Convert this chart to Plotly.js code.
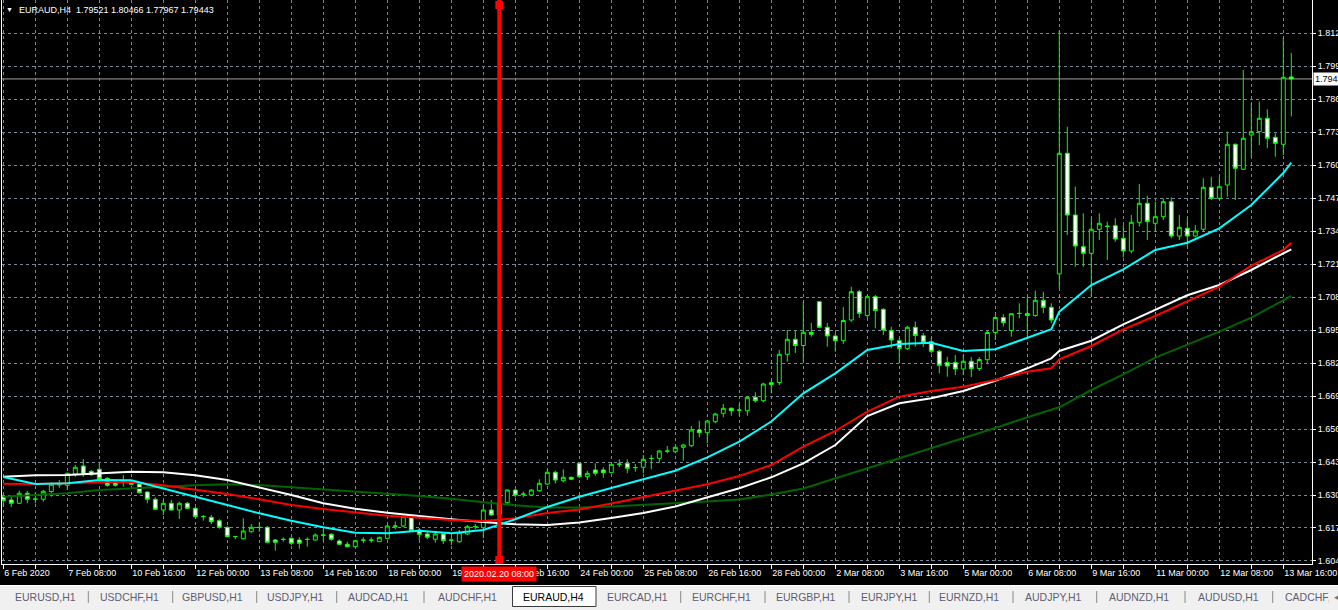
<!DOCTYPE html>
<html>
<head>
<meta charset="utf-8">
<script src="https://cdn.plot.ly/plotly-3.0.1.min.js"></script>
<style>
html,body{margin:0;padding:0;background:#000;overflow:hidden}
#chart{width:1338px;height:610px}
</style>
</head>
<body>
<div id="chart"></div>
<script>
// ---------------- DATA ----------------
const symbol = 'EURAUD,H4';

const opens = [
1.62983,1.62853,1.62723,1.63117,1.62881,1.62881,1.63188,1.63444,1.63432,1.63877,
1.64193,1.63984,1.64063,1.63708,1.63562,1.63574,1.63562,1.63483,1.63168,1.62881,
1.62459,1.62723,1.62459,1.62723,1.62526,1.62195,1.62171,1.62037,1.61777,1.61407,
1.61328,1.61604,1.61777,1.61777,1.61277,1.61305,1.61344,1.61277,1.61305,1.61277,
1.61474,1.61502,1.61238,1.61108,1.61013,1.61277,1.61277,1.61210,1.61344,1.61829,
1.61829,1.62171,1.61671,1.61513,1.61305,1.61513,1.61277,1.61210,1.61513,1.61801,
1.61762,1.62459,1.62262,1.62747,1.63247,1.63089,1.63050,1.63219,1.63483,1.63944,
1.63613,1.63747,1.64299,1.63771,1.64035,1.64035,1.63929,1.64271,1.64299,1.64126,
1.64141,1.64496,1.64496,1.64784,1.64756,1.64929,1.64992,1.65611,1.65505,1.65938,
1.66269,1.66466,1.66399,1.66371,1.66899,1.66765,1.67475,1.67483,1.68594,1.69185,
1.68940,1.69460,1.70666,1.69657,1.69315,1.69129,1.69945,1.71060,1.70122,1.70863,
1.70367,1.69531,1.69129,1.68814,1.69657,1.69326,1.69090,1.68712,1.68270,1.68270,
1.68014,1.68318,1.68034,1.68381,1.69452,1.70043,1.69531,1.70209,1.70201,1.70122,
1.70721,1.70445,1.71757,1.76513,1.74082,1.72833,1.72573,1.73519,1.73649,1.73660,
1.73164,1.72664,1.73794,1.74543,1.73755,1.74015,1.74606,1.73255,1.73558,1.73255,
1.73519,1.75173,1.74740,1.75264,1.76868,1.75883,1.77234,1.77364,1.77892,1.77143,
1.76868,1.79521];

const highs = [
1.63089,1.62971,1.63219,1.63219,1.63141,1.63247,1.63550,1.63641,1.63929,1.64232,
1.64468,1.64035,1.64271,1.63747,1.63613,1.63838,1.63641,1.63511,1.63196,1.62959,
1.62853,1.62853,1.62786,1.62774,1.62577,1.62262,1.62262,1.62093,1.61817,1.61435,
1.62132,1.61907,1.61974,1.61829,1.61316,1.61383,1.61383,1.61383,1.61383,1.61541,
1.61699,1.61541,1.61305,1.61210,1.61277,1.61383,1.61383,1.61407,1.61868,1.61998,
1.62301,1.62195,1.61738,1.61643,1.61565,1.61541,1.61407,1.61671,1.61868,1.61907,
1.62656,1.62853,1.63089,1.63275,1.63275,1.63180,1.63286,1.63669,1.64063,1.64007,
1.64063,1.63771,1.64323,1.64007,1.64299,1.64141,1.64271,1.64457,1.64457,1.64271,
1.64626,1.64626,1.64823,1.64981,1.64981,1.65059,1.65769,1.65977,1.66005,1.66293,
1.66635,1.66505,1.66635,1.66923,1.67096,1.67475,1.67581,1.68763,1.69551,1.69551,
1.70666,1.69827,1.70694,1.69827,1.69433,1.70457,1.71257,1.71127,1.70930,1.70930,
1.70406,1.69681,1.69224,1.69709,1.69878,1.69433,1.69224,1.68763,1.68499,1.68566,
1.68566,1.68487,1.68487,1.69551,1.70142,1.70170,1.70209,1.70603,1.70863,1.71099,
1.71060,1.70603,1.81371,1.77561,1.75197,1.74149,1.73952,1.74149,1.73818,1.73952,
1.73688,1.74082,1.75303,1.74842,1.74606,1.74740,1.74779,1.74082,1.73952,1.73688,
1.75528,1.75591,1.75591,1.77364,1.76907,1.79795,1.78483,1.78546,1.78247,1.77301,
1.81044,1.80466];

const lows = [
1.62589,1.62577,1.62695,1.62723,1.62723,1.62786,1.62983,1.63338,1.63247,1.63771,
1.63771,1.63810,1.63669,1.63377,1.63377,1.63377,1.63444,1.63117,1.62723,1.62459,
1.62262,1.62431,1.62104,1.62498,1.62183,1.62037,1.61907,1.61722,1.61383,1.61305,
1.61305,1.61565,1.61604,1.61147,1.60855,1.61210,1.61080,1.60934,1.61013,1.61249,
1.61249,1.61249,1.61080,1.60989,1.60989,1.61147,1.61171,1.61198,1.61305,1.61699,
1.61777,1.61620,1.61277,1.61305,1.61171,1.61119,1.61080,1.61171,1.61474,1.61699,
1.61344,1.62234,1.62195,1.62723,1.62959,1.62959,1.63023,1.63180,1.63444,1.63511,
1.63550,1.63641,1.63708,1.63641,1.63810,1.63732,1.63905,1.64141,1.63905,1.63968,
1.63905,1.64063,1.64323,1.64693,1.64693,1.64401,1.64941,1.65323,1.65087,1.65875,
1.66111,1.66174,1.66174,1.66174,1.66687,1.66702,1.67057,1.67384,1.68302,1.68645,
1.68302,1.69287,1.69618,1.68893,1.68696,1.68999,1.69878,1.70024,1.70012,1.69618,
1.69354,1.68830,1.68239,1.68763,1.68893,1.68881,1.68633,1.67845,1.67711,1.67778,
1.67778,1.67699,1.67936,1.68239,1.69157,1.69681,1.69287,1.70012,1.69287,1.70075,
1.70209,1.69815,1.71194,1.73294,1.72045,1.72045,1.70863,1.73097,1.72309,1.73030,
1.72415,1.72573,1.73621,1.73097,1.73424,1.73885,1.73164,1.73097,1.72833,1.73203,
1.73424,1.74673,1.74673,1.74803,1.74673,1.75855,1.76379,1.76840,1.76710,1.76379,
1.76446,1.77967];

const closes = [
1.62825,1.62723,1.63117,1.62881,1.62892,1.63196,1.63472,1.63483,1.63905,1.64141,
1.63866,1.63850,1.63692,1.63432,1.63432,1.63562,1.63472,1.63141,1.62881,1.62486,
1.62723,1.62459,1.62723,1.62526,1.62195,1.62203,1.61998,1.61777,1.61407,1.61415,
1.61632,1.61777,1.61769,1.61186,1.61186,1.61297,1.61147,1.61147,1.61297,1.61474,
1.61466,1.61305,1.61108,1.61013,1.61249,1.61269,1.61269,1.61383,1.61829,1.61821,
1.62195,1.61643,1.61502,1.61383,1.61513,1.61249,1.61269,1.61565,1.61801,1.61809,
1.62459,1.62262,1.62723,1.63247,1.63050,1.63082,1.63247,1.63511,1.63944,1.63641,
1.63747,1.63669,1.63771,1.63905,1.63905,1.63929,1.64260,1.64264,1.64102,1.64133,
1.64457,1.64488,1.64784,1.64776,1.64929,1.65020,1.65611,1.65505,1.65966,1.66241,
1.66466,1.66371,1.66391,1.66899,1.66765,1.67423,1.67404,1.68594,1.69185,1.68940,
1.69460,1.69382,1.69657,1.69315,1.69129,1.69925,1.71060,1.70209,1.70863,1.70319,
1.69551,1.69157,1.68822,1.69657,1.69334,1.69070,1.68712,1.68160,1.68133,1.68014,
1.68318,1.68026,1.68389,1.69452,1.70043,1.69839,1.70193,1.70201,1.70122,1.70721,
1.70445,1.69945,1.76513,1.74082,1.72861,1.72573,1.73519,1.73755,1.73629,1.73136,
1.72664,1.73794,1.74543,1.73818,1.74015,1.74606,1.73255,1.73597,1.73255,1.73452,
1.75173,1.74740,1.75197,1.76868,1.75922,1.77104,1.77364,1.77892,1.77104,1.76907,
1.79507,1.79443];

// moving averages at these bar numbers
const maBars = [0,4,8,12,16,20,24,28,32,36,40,44,48,52,56,60,64,68,72,76,80,84,88,92,96,100,
104,108,112,116,120,124,128,131,132,136,140,144,148,152,156,160,161];
const maCyan = [1.63759,1.63483,1.63511,1.63641,1.63629,1.63314,1.62983,1.62656,1.62329,1.62037,
1.61777,1.61565,1.61541,1.61643,1.61541,1.61671,1.62093,1.62577,1.62983,1.63338,1.63669,1.64007,
1.64535,1.65150,1.65946,1.67057,1.67845,1.68763,1.68999,1.69051,1.68724,1.68791,1.69224,1.69579,
1.70272,1.71324,1.71943,1.72703,1.72991,1.73558,1.74476,1.75737,1.76143];
const maRed = [1.63495,1.63483,1.63511,1.63550,1.63550,1.63432,1.63259,1.63089,1.62881,1.62656,
1.62498,1.62380,1.62234,1.62156,1.62065,1.62026,1.62132,1.62341,1.62479,1.62715,1.62959,1.63208,
1.63472,1.63799,1.64232,1.64953,1.65572,1.66332,1.66923,1.67148,1.67317,1.67581,1.67908,1.68042,
1.68397,1.68921,1.69579,1.70103,1.70666,1.71257,1.72084,1.72703,1.72991];
const maWhite = [1.63771,1.63826,1.63838,1.63905,1.63968,1.63944,1.63826,1.63641,1.63353,1.63050,
1.62723,1.62510,1.62353,1.62211,1.62093,1.61986,1.61896,1.61868,1.61966,1.62144,1.62341,1.62597,
1.62959,1.63314,1.63747,1.64299,1.65020,1.66163,1.66663,1.66860,1.67148,1.67553,1.68042,1.68436,
1.68724,1.69129,1.69776,1.70339,1.70918,1.71324,1.71915,1.72573,1.72731];
const maGreen = [1.62983,1.63050,1.63117,1.63247,1.63314,1.63365,1.63432,1.63472,1.63444,1.63353,
1.63275,1.63180,1.63101,1.63011,1.62904,1.62763,1.62644,1.62557,1.62557,1.62597,1.62656,1.62715,
1.62794,1.62873,1.63070,1.63306,1.63700,1.64114,1.64508,1.64902,1.65296,1.65690,1.66111,1.66399,
1.66505,1.67187,1.67806,1.68460,1.68960,1.69484,1.70036,1.70733,1.70891];

// time-axis labels (bar number -> label)
const labelBars = [0,8,16,24,32,40,48,56,64,72,80,88,96,104,112,120,128,136,144,152,160];
const labelTexts = ['6 Feb 2020','7 Feb 08:00','10 Feb 16:00','12 Feb 00:00','13 Feb 08:00',
'14 Feb 16:00','18 Feb 00:00','19 Feb 08:00','20 Feb 16:00','24 Feb 00:00','25 Feb 08:00',
'26 Feb 16:00','28 Feb 00:00','2 Mar 08:00','3 Mar 16:00','5 Mar 00:00','6 Mar 08:00',
'9 Mar 16:00','11 Mar 00:00','12 Mar 08:00','13 Mar 16:00'];

// price-axis labels
const priceTicks = [1.6045,1.6175,1.6305,1.6435,1.6565,1.6695,1.6825,1.6955,1.7085,1.7215,
1.7345,1.7475,1.7605,1.7735,1.7865,1.7995,1.8125];

// vertical line object
const markerBar = 62;
const markerLabel = '2020.02.20 08:00';

// terminal tabs
const tabNames = ['EURUSD,H1','USDCHF,H1','GBPUSD,H1','USDJPY,H1','AUDCAD,H1','AUDCHF,H1',
'EURAUD,H4','EURCAD,H1','EURCHF,H1','EURGBP,H1','EURJPY,H1','EURNZD,H1','AUDJPY,H1',
'AUDNZD,H1','AUDUSD,H1','CADCHF,H1'];

// ---------------- LAYOUT GEOMETRY ----------------
const W = 1338, H = 610, ML = 2, MR = 26, MT = 0, MB = 46;
const PW = W - ML - MR, PH = H - MT - MB;
const px = x => (x - ML) / PW;
const py = y => (PH + MT - y) / PH;
const BAR_PX = 8, BAR0_PX = 3.3;

const tabCenters = [45,129,212.5,295.5,378.5,467,553.5,637,721.5,805,889,969,1053.5,1139,1228,1283];
const tabSeps = [88.3,172.7,256.7,336.7,424,680.7,765,849,929.3,1013,1096.7,1185,1272.7];
const activeTab = 6;

const FONT = 'Liberation Sans, Arial, sans-serif';
const GRID = '#778899';
const last = closes.length - 1;

// grid every 4 bars, labels every 8
const gridBars = [];
for (let b = 0; b <= labelBars[labelBars.length - 1]; b += 4) gridBars.push(b);
const gridTexts = gridBars.map(b => {
  const k = labelBars.indexOf(b);
  return k >= 0 ? labelTexts[k] : '';
});

const xIdx = opens.map((_, i) => i);

const traces = [
  {
    type: 'candlestick', x: xIdx, open: opens, high: highs, low: lows, close: closes,
    increasing: {line: {color: '#00ff00', width: 1}, fillcolor: '#000000'},
    decreasing: {line: {color: '#00ff00', width: 1}, fillcolor: '#ffffff'},
    whiskerwidth: 0, hoverinfo: 'skip', showlegend: false
  },
  {type: 'scatter', mode: 'lines', x: maBars, y: maGreen, line: {color: '#006400', width: 2}, hoverinfo: 'skip', showlegend: false},
  {type: 'scatter', mode: 'lines', x: maBars, y: maWhite, line: {color: '#ffffff', width: 2}, hoverinfo: 'skip', showlegend: false},
  {type: 'scatter', mode: 'lines', x: maBars, y: maRed, line: {color: '#ff0000', width: 2}, hoverinfo: 'skip', showlegend: false},
  {type: 'scatter', mode: 'lines', x: maBars, y: maCyan, line: {color: '#00ffff', width: 2}, hoverinfo: 'skip', showlegend: false}
];

const shapes = [
  // bid line
  {type: 'line', xref: 'paper', x0: 0, x1: 1, yref: 'y', y0: closes[last], y1: closes[last],
   line: {color: '#a0a0a0', width: 1}, layer: 'below'},
  // vertical line object
  {type: 'line', xref: 'x', x0: markerBar, x1: markerBar, yref: 'paper', y0: 0, y1: 1,
   line: {color: '#ff0000', width: 4}},
  {type: 'rect', xref: 'x', x0: markerBar - 0.5, x1: markerBar + 0.5, yref: 'paper', y0: py(9), y1: py(1),
   fillcolor: '#ff0000', line: {width: 0}},
  {type: 'rect', xref: 'x', x0: markerBar - 0.5, x1: markerBar + 0.5, yref: 'paper', y0: py(564), y1: py(556),
   fillcolor: '#ff0000', line: {width: 0}},
  // tab strip
  {type: 'rect', xref: 'paper', yref: 'paper', x0: px(0), x1: px(W), y0: py(H), y1: py(585),
   fillcolor: '#f0f0f0', line: {width: 0}, layer: 'above'},
  {type: 'line', xref: 'paper', yref: 'paper', x0: px(0), x1: px(W), y0: py(585.5), y1: py(585.5),
   line: {color: '#ffffff', width: 1}, layer: 'above'},
  {type: 'rect', xref: 'paper', yref: 'paper', x0: px(512.5), x1: px(596), y0: py(606.5), y1: py(586.5),
   fillcolor: '#ffffff', line: {color: '#3a3a3a', width: 1}, layer: 'above'}
];
tabSeps.forEach(s => shapes.push({type: 'line', xref: 'paper', yref: 'paper', x0: px(s), x1: px(s),
  y0: py(603), y1: py(591), line: {color: '#8a8a8a', width: 1}, layer: 'above'}));

const annotations = [
  {xref: 'paper', yref: 'paper', x: px(4), y: py(10), xanchor: 'left', yanchor: 'middle', showarrow: false,
   text: '\u25BC', font: {family: FONT, size: 7, color: '#ffffff'}},
  {xref: 'paper', yref: 'paper', x: px(17), y: py(10.5), xanchor: 'left', yanchor: 'middle', showarrow: false,
   text: symbol + '\u00a0\u00a0' + opens[last].toFixed(5) + ' ' + highs[last].toFixed(5) + ' ' +
         lows[last].toFixed(5) + ' ' + closes[last].toFixed(5),
   font: {family: FONT, size: 9, color: '#ffffff'}},
  {xref: 'x', yref: 'paper', x: markerBar, y: py(573.5), xanchor: 'center', yanchor: 'middle', showarrow: false,
   text: markerLabel, bgcolor: '#ff0000', borderpad: 2, font: {family: FONT, size: 9, color: '#ffffff'}},
  {xref: 'paper', yref: 'y', x: 1, y: closes[last], xanchor: 'left', yanchor: 'middle', xshift: 1, showarrow: false,
   text: closes[last].toFixed(5), bgcolor: '#ffffff', borderpad: 1, font: {family: FONT, size: 9, color: '#000000'}}
];
tabNames.forEach((t, i) => {
  const isLast = i === tabNames.length - 1;
  annotations.push({xref: 'paper', yref: 'paper', x: px(tabCenters[i]), y: py(597),
    xanchor: isLast ? 'left' : 'center', yanchor: 'middle', showarrow: false, text: t,
    font: {family: FONT, size: 10.5, color: i === activeTab ? '#000000' : '#5e5e72'}});
});
annotations.push({xref: 'paper', yref: 'paper', x: px(1328), y: py(597), xanchor: 'left', yanchor: 'middle',
  showarrow: false, text: '\u25C2', bgcolor: '#f0f0f0', width: 12, height: 18,
  font: {family: FONT, size: 9, color: '#707070'}});

const layout = {
  width: W, height: H,
  margin: {l: ML, r: MR, t: MT, b: MB, pad: 0},
  paper_bgcolor: '#000000', plot_bgcolor: '#000000',
  showlegend: false, hovermode: false, dragmode: false,
  font: {family: FONT, size: 9, color: '#ffffff'},
  xaxis: {
    range: [(ML - BAR0_PX) / BAR_PX, (ML + PW - BAR0_PX) / BAR_PX],
    rangeslider: {visible: false},
    tickmode: 'array', tickvals: gridBars, ticktext: gridTexts,
    ticklabelposition: 'outside right',
    ticks: 'outside', ticklen: 4, tickcolor: '#ffffff', tickwidth: 1,
    tickfont: {family: FONT, size: 9, color: '#ffffff'},
    showgrid: true, gridcolor: GRID, griddash: '3px,3px', gridwidth: 1,
    zeroline: false, showline: true, linecolor: '#ffffff', linewidth: 1,
    fixedrange: true
  },
  yaxis: {
    range: [1.82553 - 0.000394 * PH, 1.82553],
    side: 'right',
    tickmode: 'array', tickvals: priceTicks, ticktext: priceTicks.map(v => v.toFixed(5)),
    ticks: 'outside', ticklen: 3, tickcolor: '#ffffff',
    tickfont: {family: FONT, size: 9, color: '#ffffff'},
    showgrid: true, gridcolor: GRID, griddash: '3px,3px', gridwidth: 1,
    zeroline: false, showline: true, mirror: true, linecolor: '#ffffff', linewidth: 1,
    fixedrange: true
  },
  shapes: shapes,
  annotations: annotations
};

Plotly.newPlot('chart', traces, layout, {displayModeBar: false, staticPlot: true});
</script>
</body>
</html>
